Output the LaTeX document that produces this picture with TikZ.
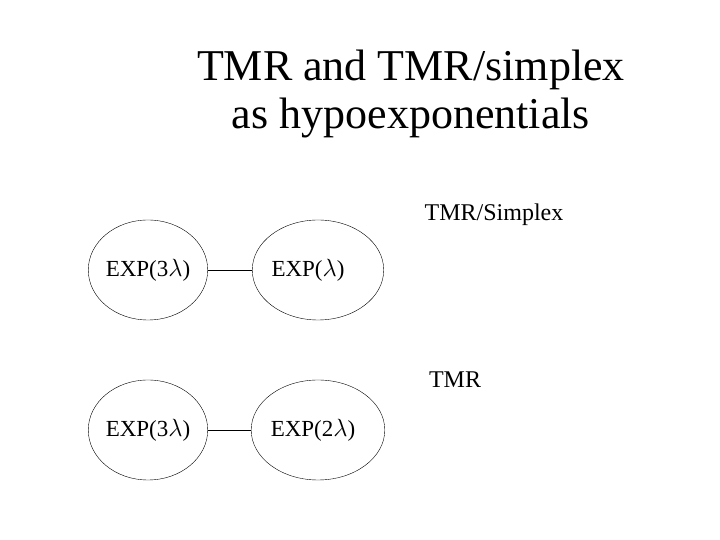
\documentclass[tikz,border=0pt]{standalone}
\usepackage{fontspec}
\setmainfont{Liberation Serif}
\usetikzlibrary{positioning, shapes.geometric}
\begin{document}
\begin{tikzpicture}[x=1pt,y=1pt,node distance=170pt,on grid]
  \tikzstyle{stage}=[draw,ellipse,minimum width=114pt,minimum height=100pt,inner sep=0pt,font=\fontsize{23}{27}\selectfont]
  \useasboundingbox (0,0) rectangle (720,540);

  \node[align=center,font=\fontsize{44}{48}\selectfont](title) at (411,446){TMR and TMR/simplex\\as hypoexponentials};

  \node(sl) at (494,325){\fontsize{24}{28}\selectfont TMR/Simplex};
  \node[stage](s_1) at (148,270){EXP(3$\lambda$)};
  \node[stage](s_2)[right=of s_1]{EXP($\lambda$)\hspace*{20pt}};

  \node(tl) at (455,160){\fontsize{24}{28}\selectfont TMR};
  \node[stage](t_1) at (148,110){EXP(3$\lambda$)};
  \node[stage](t_2)[right=of t_1]{EXP(2$\lambda$)\hspace*{10pt}};

  \draw (s_1) -- (s_2);
  \draw (t_1) -- (t_2);
\end{tikzpicture}
\end{document}
